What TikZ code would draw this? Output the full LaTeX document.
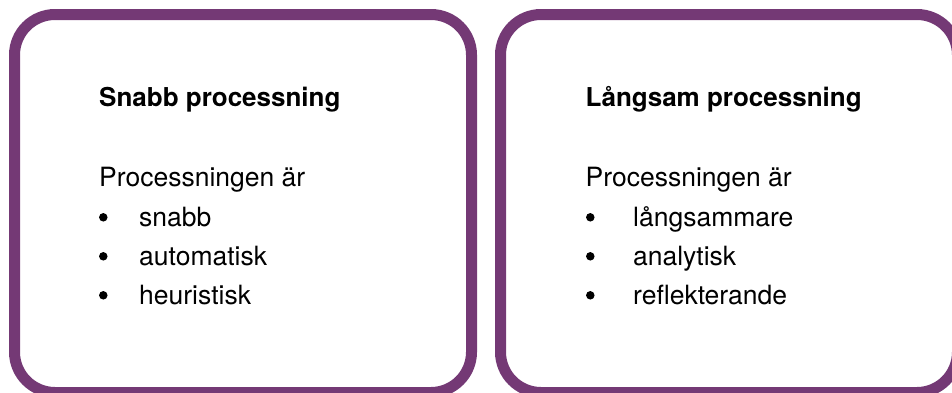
\documentclass[tikz,border=0pt]{standalone}
\usepackage{fontspec}
\setmainfont{TeX Gyre Heros}
\definecolor{boxpurple}{RGB}{116,57,117}
\begin{document}
\begin{tikzpicture}[x=1pt,y=-1pt,
  panel/.style={draw=boxpurple, line width=11pt, rounded corners=40.5pt, minimum width=457pt, minimum height=378pt, inner sep=0pt},
  txt/.style={anchor=base west, inner sep=0pt, font=\fontsize{26.5}{30}\selectfont},
  ttl/.style={txt, font=\fontsize{26}{30}\selectfont\bfseries},
  bul/.style={circle, fill=black, inner sep=0pt, minimum size=8.5pt}]
\useasboundingbox (0,0) rectangle (952,392);
\clip (0,0) rectangle (952,392);
\node[panel] (left) at (243,203.5) {};
\node[panel] (right) at (729,203.5) {};
% left panel
\node[ttl] (lt) at (99,106.7) {Snabb processning};
\node[txt] (lp) at (99,186.5) {Processningen är};
\node[bul] (lb1) at (103.3,217.3) {};
\node[txt] (li1) at (139,226.3) {snabb};
\node[bul] (lb2) at (103.3,256.3) {};
\node[txt] (li2) at (139,265.3) {automatisk};
\node[bul] (lb3) at (103.3,295.3) {};
\node[txt] (li3) at (139,304.3) {heuristisk};
% right panel
\node[ttl] (rt) at (585.5,106.7) {Långsam processning};
\node[txt] (rp) at (585.5,186.5) {Processningen är};
\node[bul] (rb1) at (590.3,217.3) {};
\node[txt] (ri1) at (633,226.3) {långsammare};
\node[bul] (rb2) at (590.3,256.3) {};
\node[txt] (ri2) at (633,265.3) {analytisk};
\node[bul] (rb3) at (590.3,295.3) {};
\node[txt] (ri3) at (633,304.3) {reflekterande};
\end{tikzpicture}
\end{document}
